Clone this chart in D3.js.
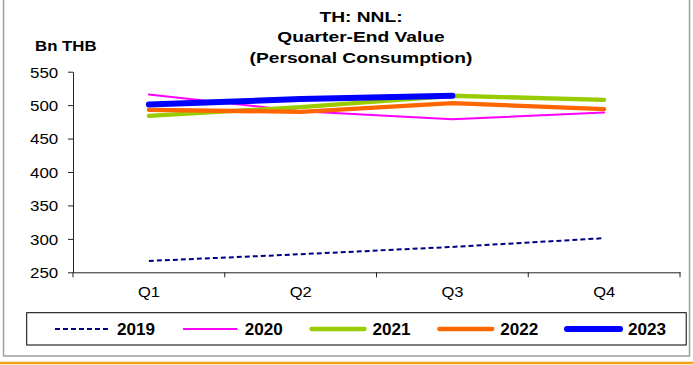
<!DOCTYPE html>
<html><head><meta charset="utf-8">
<script src="https://cdn.jsdelivr.net/npm/d3@7/dist/d3.min.js"></script>
<style>
html,body{margin:0;padding:0;background:#fff;}
svg{display:block;font-family:"Liberation Sans",Arial,sans-serif;}
</style></head>
<body>
<svg id="chart" width="693" height="365"></svg>
<script>
const quarters = ["Q1","Q2","Q3","Q4"];
const yTicks = [250,300,350,400,450,500,550];
const years = ["2019","2020","2021","2022","2023"];
const v2019 = [267, 277, 288, 301];
const v2020 = [516, 491, 479, 489];
const v2021 = [484, 497, 514, 508];
const v2022 = [493, 490, 503, 494];
const v2023 = [501, 509, 514];
const titleLines = ["TH: NNL:", "Quarter-End Value", "(Personal Consumption)"];
const yUnit = "Bn THB";

const seriesValues = [v2019, v2020, v2021, v2022, v2023];
const styles = [
  {color:"#000080", width:2, dash:"5,3"},
  {color:"#ff00ff", width:2, dash:null},
  {color:"#99cc00", width:4.3, dash:null},
  {color:"#ff6600", width:4.3, dash:null},
  {color:"#0000ff", width:6, dash:null}
];

const svg = d3.select("#chart");
const pLeft = 73, pRight = 680, pTop = 71.7, pBottom = 272.3;

const x = d3.scaleBand().domain(quarters).range([pLeft, pRight]);
const y = d3.scaleLinear().domain([250, 550]).range([pBottom, pTop]);

// outer frame
svg.append("rect").attr("x",3.5).attr("y",-2).attr("width",686).attr("height",358)
  .attr("fill","none").attr("stroke","#a0a0a0").attr("stroke-width",1.5);
svg.append("line").attr("x1",0).attr("x2",693).attr("y1",363).attr("y2",363)
  .attr("stroke","#f5a01a").attr("stroke-width",2.5);

function stext(g, str, px, py, opts){
  return g.append("text")
    .attr("transform", `translate(${px},${py}) scale(${opts.sx||1},1)`)
    .attr("text-anchor", opts.anchor||"start")
    .attr("font-size", opts.size)
    .attr("font-weight", opts.bold ? "bold" : "normal")
    .attr("fill", "#000")
    .text(str);
}

// title
titleLines.forEach((l,i)=>{
  stext(svg, l, 361, 21.7 + i*20.5, {size:15.5, bold:true, anchor:"middle", sx:1.24});
});
stext(svg, yUnit, 35, 51, {size:14.5, bold:true, sx:1.16});

// y axis
const yAxis = svg.append("g").attr("transform",`translate(${pLeft},0)`)
  .call(d3.axisLeft(y).tickValues(yTicks).tickSize(5).tickSizeOuter(0));
yAxis.select(".domain").attr("stroke","#222");
yAxis.selectAll(".tick line").attr("stroke","#222");
yAxis.selectAll(".tick text")
  .attr("x", null).attr("dy", null)
  .attr("font-size", 15).attr("fill","#000")
  .attr("font-family","Liberation Sans, Arial, sans-serif")
  .attr("text-anchor","end")
  .attr("transform","translate(-14.7,5.3) scale(1.13,1)");

// x axis
const xAxis = svg.append("g").attr("transform",`translate(0,${pBottom})`)
  .call(d3.axisBottom(x).tickSize(0).tickSizeOuter(0));
xAxis.select(".domain").attr("stroke","#222");
xAxis.selectAll(".tick text")
  .attr("y", null).attr("dy", null)
  .attr("font-size", 15).attr("fill","#000")
  .attr("font-family","Liberation Sans, Arial, sans-serif")
  .attr("transform","translate(0,24.7) scale(1.1,1)");
const bounds = quarters.map(q => x(q)).concat([x(quarters[quarters.length-1]) + x.bandwidth()]);
xAxis.selectAll(".btick").data(bounds).enter().append("line")
  .attr("x1", d=>d).attr("x2", d=>d).attr("y1",0).attr("y2",5)
  .attr("stroke","#222");

// lines
const line = d3.line()
  .x((d,i)=> x(quarters[i]) + x.bandwidth()/2)
  .y(d => y(d));
seriesValues.forEach((vals, k)=>{
  const s = styles[k];
  svg.append("path").datum(vals)
    .attr("d", line)
    .attr("fill","none")
    .attr("stroke", s.color)
    .attr("stroke-width", s.width)
    .attr("stroke-linecap", s.dash ? "butt" : "round")
    .attr("stroke-linejoin","round")
    .attr("stroke-dasharray", s.dash);
});

// legend
const lg = svg.append("g");
lg.append("rect").attr("x",26.7).attr("y",312.7).attr("width",659.5).attr("height",32.3)
  .attr("fill","#fff").attr("stroke","#000").attr("stroke-width",1);
const lx = d3.scalePoint().domain(years).range([55, 566]);
years.forEach((yr,k)=>{
  const s = styles[k];
  const x0 = lx(yr);
  lg.append("line").attr("x1",x0 + (s.dash?0:1)).attr("x2",x0+56-(s.dash?0:2)).attr("y1",329).attr("y2",329)
    .attr("stroke",s.color).attr("stroke-width",s.width)
    .attr("stroke-linecap", s.dash ? "butt" : "round")
    .attr("stroke-dasharray", s.dash);
  stext(lg, yr, x0+62, 335, {size:16, bold:true, sx:1.07});
});
</script>
</body></html>
